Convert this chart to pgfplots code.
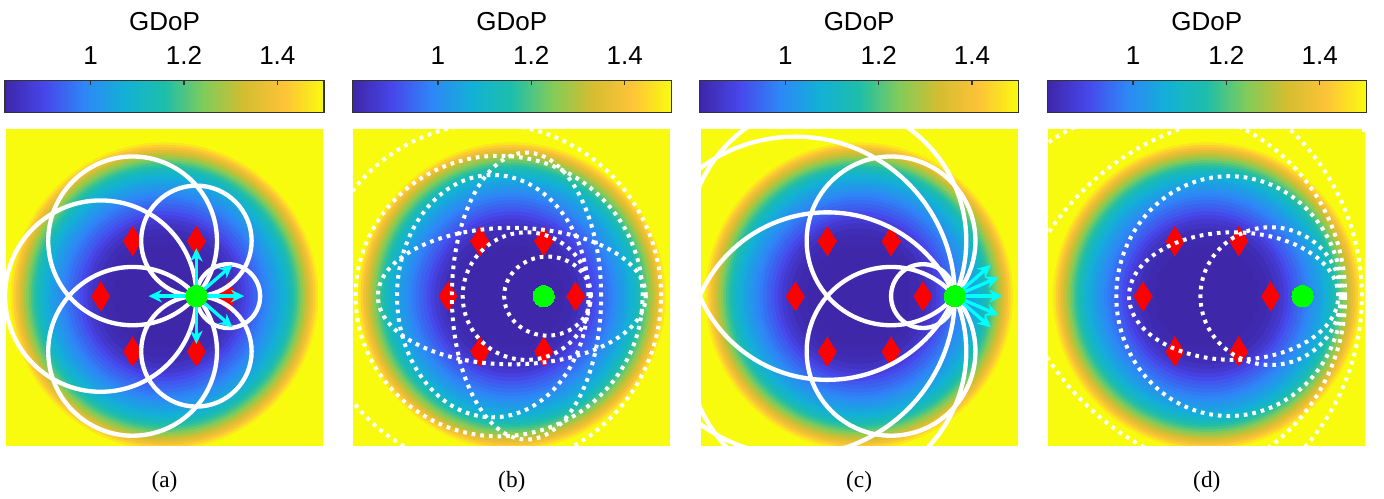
\documentclass[border=0pt]{standalone}
\usepackage{fontspec}
\setmainfont{Liberation Serif}
\setsansfont{Liberation Sans}
\usepackage{pgfplots}
\pgfplotsset{compat=1.18}
\usepackage{pgfplotstable}
\usetikzlibrary{arrows.meta}

\definecolor{gdotgreen}{RGB}{0,255,0}
\definecolor{acyan}{RGB}{0,255,255}
\definecolor{pyellow}{RGB}{249,251,14}
\def\U{19.135pt}

% radial GDoP profile: centre x y, radius, GDoP
\pgfplotstableread{
x y r g
0 0 2.44 1.50
0 0 2.40 1.47
0 0 2.36 1.43
0 0 2.32 1.39
0 0 2.28 1.355
0 0 2.24 1.32
0 0 2.20 1.285
0 0 2.16 1.25
0 0 2.12 1.22
0 0 2.08 1.19
0 0 2.04 1.165
0 0 2.00 1.14
0 0 1.96 1.115
0 0 1.92 1.095
0 0 1.88 1.075
0 0 1.84 1.06
0 0 1.80 1.045
0 0 1.75 1.03
0 0 1.70 1.015
0 0 1.65 1.00
0 0 1.60 0.985
0 0 1.55 0.97
0 0 1.50 0.955
0 0 1.44 0.94
0 0 1.38 0.925
0 0 1.32 0.905
0 0 1.26 0.885
0 0 1.20 0.865
0 0 1.13 0.85
0 0 1.05 0.835
0 0 0.95 0.825
0 0 0.80 0.818
}\ringtab

\pgfplotstableread{
x y
1 0
0.5 0.866
-0.5 0.866
-1 0
-0.5 -0.866
0.5 -0.866
}\anchors

\pgfplotstableread{
x y rx ry
1 0 0.5 0.5
0.5 0.866 0.866 0.866
-0.5 0.866 1.323 1.323
-1 0 1.5 1.5
-0.5 -0.866 1.323 1.323
0.5 -0.866 0.866 0.866
}\circA

\pgfplotstableread{
x y rx ry
1 0 0.5 0.5
0.5 0.866 1.323 1.323
-0.5 0.866 2.179 2.179
-1 0 2.5 2.5
-0.5 -0.866 2.179 2.179
0.5 -0.866 1.323 1.323
}\circC

\pgfplotstableread{
x y rx ry
0.56 0 0.68 0.62
0 0 2.1 1.07
0.23 0 1.17 2.25
-0.2 0 2.25 2.2
-0.3 0 1.5 1.9
0.23 0 1.0 1.0
-0.36 0 2.7 2.7
}\ellB

\pgfplotstableread{
x y rx ry
1.0 0 1.1 1.08
0.42 0 1.64 1.0
0.35 0 1.77 1.88
-0.78 0 2.95 2.95
-1.16 0 3.59 3.59
1.0 -1.3 4.17 4.17
1.0 1.3 4.17 4.17
}\ellD

\pgfplotstableread{
x y u v
0.5 0 0.75 0
0.5 0 -0.75 0
0.5 0 0 0.75
0.5 0 0 -0.75
0.5 0 0.567 0.491
0.5 0 0.567 -0.491
}\arrA

\pgfplotstableread{
x y u v
1.5 0 0.75 0
1.5 0 0.567 0.491
1.5 0 0.567 -0.491
1.5 0 0.688 0.298
1.5 0 0.688 -0.298
}\arrC

\pgfplotsset{
  colormap={parula}{rgb255(0cm)=(62,38,168) rgb255(1cm)=(71,71,235) rgb255(2cm)=(46,135,247) rgb255(3cm)=(18,177,214) rgb255(4cm)=(30,190,170) rgb255(5cm)=(129,204,89) rgb255(6cm)=(212,189,48) rgb255(7cm)=(254,195,56) rgb255(8cm)=(249,251,14)},
  panel/.style={
    scale only axis, width=95.1pt, height=95.1pt,
    xmin=-2.485, xmax=2.485, ymin=-2.35, ymax=2.62,
    enlargelimits=false,
    xtick=\empty, ytick=\empty,
    axis line style={draw=none},
    axis background/.style={fill=pyellow},
    clip marker paths=true,
    point meta min=0.8165, point meta max=1.5,
    anchor=south west,
    colorbar horizontal,
    colorbar style={
      at={(parent axis.north)}, anchor=south, yshift=13.5pt,
      scale only axis, width=95.7pt, height=9.6pt,
      xmin=0.8165, xmax=1.5, ymin=0, ymax=1,
      xtick={1,1.2,1.4}, ytick=\empty,
      xtick pos=right, xticklabel pos=right,
      xtick align=inside, major tick length=1.5pt,
      tick style={black!80, line width=0.4pt},
      axis line style={draw=black!80, line width=0.4pt},
      xticklabel style={font=\sffamily\fontsize{7.8}{9}\selectfont, /pgf/number format/assume math mode=true, anchor=base, yshift=4.8pt},
      title={GDoP},
      title style={font=\sffamily\fontsize{7.8}{9}\selectfont, at={(0.5,1)}, anchor=base, yshift=9.1pt},
    },
  },
  rings/.style={scatter, only marks, mark=*, point meta=explicit,
    scatter/use mapped color={draw=mapped color, fill=mapped color},
    visualization depends on={\thisrow{r}\as\myr},
    scatter/@pre marker code/.append style={/tikz/mark size=\myr*\U}},
  wline/.style={scatter, only marks, mark=o, point meta=explicit,
    scatter/use mapped color={draw=white, line width=1.3pt},
    visualization depends on={\thisrow{rx}\as\myrx},
    visualization depends on={\thisrow{ry}\as\myry},
    scatter/@pre marker code/.append style={/tikz/mark size=\myry*\U, /tikz/xscale=\myrx/\myry}},
  wdot/.style={scatter, only marks, mark=o, point meta=explicit,
    scatter/use mapped color={draw=white, line width=1.2pt, dash pattern=on 1.1pt off 1.5pt},
    visualization depends on={\thisrow{rx}\as\myrx},
    visualization depends on={\thisrow{ry}\as\myry},
    scatter/@pre marker code/.append style={/tikz/mark size=\myry*\U, /tikz/xscale=\myrx/\myry}},
  diam/.style={red, only marks, mark=diamond*, mark size=4.35pt, mark options={fill=red, draw=red, line width=0pt, xscale=0.83}},
  tgt/.style={gdotgreen, only marks, mark=*, mark size=3.2pt, mark options={fill=gdotgreen, draw=gdotgreen, line width=0pt}},
  arr/.style={acyan, line width=1pt, -{Stealth[length=4pt,width=3.8pt]}, quiver={u=\thisrow{u},v=\thisrow{v}}},
}

\begin{document}
\begin{tikzpicture}
\path[use as bounding box] (0,0) rectangle (415.2pt,149.7pt);

% (a)
\begin{axis}[panel, at={(1.8pt,15.9pt)}]
  \addplot[rings] table[x=x, y=y, meta=g] {\ringtab};
  \addplot[diam] table {\anchors};
  \addplot[wline] table[x=x, y=y, meta=rx] {\circA};
  \addplot[arr] table {\arrA};
  \addplot[tgt] coordinates {(0.5,0)};
\end{axis}

% (b)
\begin{axis}[panel, at={(106.0pt,15.9pt)}]
  \addplot[rings] table[x=x, y=y, meta=g] {\ringtab};
  \addplot[diam] table {\anchors};
  \addplot[wdot] table[x=x, y=y, meta=rx] {\ellB};
  \addplot[tgt] coordinates {(0.5,0)};
\end{axis}

% (c)
\begin{axis}[panel, at={(210.2pt,15.9pt)}]
  \addplot[rings] table[x=x, y=y, meta=g] {\ringtab};
  \addplot[diam] table {\anchors};
  \addplot[wline] table[x=x, y=y, meta=rx] {\circC};
  \addplot[arr] table {\arrC};
  \addplot[tgt] coordinates {(1.5,0)};
\end{axis}

% (d)
\begin{axis}[panel, at={(314.5pt,15.9pt)}]
  \addplot[rings] table[x=x, y=y, meta=g] {\ringtab};
  \addplot[diam] table {\anchors};
  \addplot[wdot] table[x=x, y=y, meta=rx] {\ellD};
  \addplot[tgt] coordinates {(1.5,0)};
\end{axis}

\node[font=\fontsize{7}{8}\selectfont, anchor=base] at (49.35pt,3.3pt) {(a)};
\node[font=\fontsize{7}{8}\selectfont, anchor=base] at (153.55pt,3.3pt) {(b)};
\node[font=\fontsize{7}{8}\selectfont, anchor=base] at (257.75pt,3.3pt) {(c)};
\node[font=\fontsize{7}{8}\selectfont, anchor=base] at (362.05pt,3.3pt) {(d)};
\end{tikzpicture}
\end{document}
